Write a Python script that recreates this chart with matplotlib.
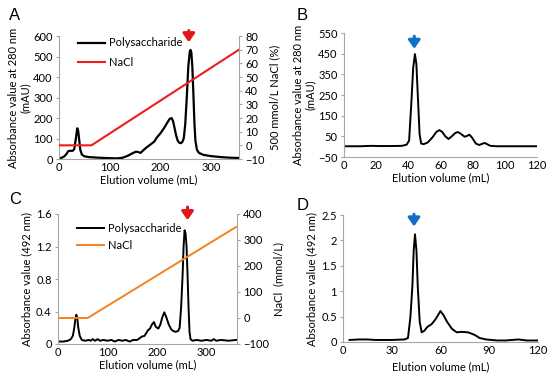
import matplotlib
matplotlib.use("Agg")
import matplotlib.pyplot as plt

plt.rcParams['font.family'] = ['Lato', 'DejaVu Sans']
FS = 8

# ---------------- Data ----------------
# Panel A: DEAE elution (absorbance 280 nm, mAU)
a_x = [0, 5, 10, 15, 18, 22, 27, 30, 33, 36, 38, 40, 42, 45, 50, 60, 80, 100, 115, 125, 135,
       145, 152, 157, 161, 166, 172, 180, 188, 193, 200, 207, 213, 218, 222, 225, 228, 231,
       234, 237, 240, 243, 246, 249, 252, 255, 258, 259.5, 261, 263, 265, 267, 269, 272, 276,
       285, 300, 320, 340, 355]
a_y = [3, 6, 12, 25, 38, 40, 40, 48, 95, 150, 135, 90, 45, 22, 13, 9, 6, 4, 3, 6, 15,
       28, 36, 33, 30, 42, 55, 70, 85, 105, 125, 150, 175, 195, 200, 185, 150, 115,
       90, 80, 77, 82, 100, 170, 300, 450, 525, 532, 520, 450, 320, 180, 90, 45, 30,
       20, 14, 9, 6, 5]
a_nacl_x = [0, 64, 355]
a_nacl_y = [0, 0, 70]

# Panel B: gel filtration (absorbance 280 nm, mAU)
b_x = [0, 10, 17, 22, 30, 36, 39, 40.5, 42, 43, 44.1, 45, 46, 47, 48, 49.5, 52, 55, 57.5,
       59.3, 61, 63, 65, 67, 69, 70.7, 72.5, 75, 76.5, 78, 79.5, 82, 84, 86, 87.5, 89, 91,
       95, 120]
b_y = [2, 2, 4, 3, 3, 4, 10, 30, 230, 380, 448, 400, 230, 60, 15, 12, 20, 45, 72,
       80, 72, 50, 37, 50, 65, 71, 63, 48, 52, 58, 45, 15, 8, 14, 18, 12, 4,
       2, 2]

# Panel C: DEAE elution (absorbance 492 nm)
c_x = [3, 10, 20, 26, 30, 33, 35, 37, 39, 41, 44, 48, 55, 62, 66, 70, 75, 80, 85, 92, 100,
       108, 115, 122, 130, 137, 145, 152, 160, 165, 169, 175, 182, 186, 190, 194, 198, 203,
       207, 211, 215, 219, 224, 229, 233, 238, 243, 246, 249, 252, 254, 256, 258, 260, 262,
       264, 266, 268, 272, 280, 290, 300, 310, 315, 320, 330, 345, 360]
c_y = [0.03, 0.03, 0.04, 0.06, 0.1, 0.2, 0.3, 0.36, 0.32, 0.2, 0.1, 0.05, 0.04, 0.05, 0.04,
       0.06, 0.04, 0.06, 0.04, 0.05, 0.04, 0.05, 0.03, 0.05, 0.04, 0.05, 0.03, 0.05, 0.05,
       0.07, 0.09, 0.1, 0.17, 0.19, 0.24, 0.27, 0.21, 0.19, 0.24, 0.33, 0.39, 0.33, 0.24,
       0.18, 0.16, 0.15, 0.16, 0.2, 0.45, 0.85, 1.2, 1.4, 1.36, 1.2, 0.85, 0.45, 0.15, 0.06,
       0.04, 0.05, 0.04, 0.05, 0.04, 0.06, 0.04, 0.05, 0.04, 0.05]
c_nacl_x = [0, 60, 360]
c_nacl_y = [0, 0, 350]

# Panel D: gel filtration (absorbance 492 nm)
d_x = [4, 10, 15, 20, 30, 38, 40, 41.5, 42.7, 43.5, 44.3, 45.2, 46, 47.2, 48.4, 50, 52, 54.5,
       57, 60, 62, 64, 67, 70, 73, 77, 81, 84, 88, 95, 100, 108, 113, 120]
d_y = [0.04, 0.05, 0.05, 0.04, 0.04, 0.05, 0.08, 0.5, 1.1, 1.8, 2.12, 1.8, 1.1, 0.4, 0.19,
       0.22, 0.3, 0.35, 0.45, 0.61, 0.52, 0.4, 0.26, 0.19, 0.2, 0.19, 0.14, 0.08, 0.05, 0.03,
       0.03, 0.05, 0.03, 0.03]

W, H = 550, 378
fig = plt.figure(figsize=(W / 100, H / 100), dpi=100)
gray = '#a6a6a6'


def add_ax(left, right, top, bottom):
    return fig.add_axes([left / W, 1 - bottom / H, (right - left) / W, (bottom - top) / H])


def style(ax):
    for s in ['top', 'right']:
        ax.spines[s].set_visible(False)
    for s in ['left', 'bottom']:
        ax.spines[s].set_color(gray)
        ax.spines[s].set_linewidth(0.8)
    ax.tick_params(axis='both', labelsize=FS, length=0, pad=2, colors='black')
    ax.tick_params(axis='y', length=2.5, direction='out', color=gray, pad=2)


def style_right(ax2):
    for s in ['top', 'left', 'bottom']:
        ax2.spines[s].set_visible(False)
    ax2.spines['right'].set_color(gray)
    ax2.spines['right'].set_linewidth(0.8)
    ax2.tick_params(axis='y', labelsize=FS, length=2.5, color=gray, pad=2)


ARW = dict(arrowstyle='-|>,head_width=0.35,head_length=0.5', lw=2.2)

# ---------- Panel A ----------
axA = add_ax(59, 239, 36, 159)
style(axA)
axA.plot(a_x, a_y, color='black', lw=1.6, label='Polysaccharide')
axA.set_xlim(0, 355)
axA.set_ylim(0, 600)
axA.set_xticks([0, 100, 200, 300])
axA.set_yticks(range(0, 601, 100))
axA.set_xlabel('Elution volume (mL)', fontsize=FS, labelpad=1)
axA.set_ylabel('Absorbance value at 280 nm\n(mAU)', fontsize=FS, labelpad=2, linespacing=1.05)
axA2 = axA.twinx()
style_right(axA2)
axA2.plot(a_nacl_x, a_nacl_y, color='#ee1c1c', lw=1.5, label='NaCl')
axA2.set_ylim(-10, 80)
axA2.set_yticks(range(-10, 81, 10))
axA2.set_ylabel('500 mmol/L NaCl (%)', fontsize=FS, labelpad=3)
h1, l1 = axA.get_legend_handles_labels()
h2, l2 = axA2.get_legend_handles_labels()
axA.legend(h1 + h2, l1 + l2, loc='upper left', bbox_to_anchor=(0.05, 1.07), frameon=False,
           fontsize=FS, handlelength=2.4, handletextpad=0.4, labelspacing=0.75)
axA.annotate('', xy=(256, 556), xytext=(256, 640), annotation_clip=False,
             arrowprops=dict(color='#e3161b', **ARW))

# ---------- Panel B ----------
axB = add_ax(344, 537, 33, 157)
style(axB)
axB.plot(b_x, b_y, color='black', lw=1.4)
axB.set_xlim(0, 120)
axB.set_ylim(-50, 550)
axB.set_xticks(range(0, 121, 20))
axB.set_yticks(range(-50, 551, 100))
axB.set_xlabel('Elution volume (mL)', fontsize=FS, labelpad=1)
axB.set_ylabel('Absorbance value at 280 nm\n(mAU)', fontsize=FS, labelpad=2, linespacing=1.05)
axB.annotate('', xy=(43.7, 460), xytext=(43.7, 548), annotation_clip=False,
             arrowprops=dict(color='#1170c6', **ARW))

# ---------- Panel C ----------
axC = add_ax(58, 237, 214, 344)
style(axC)
axC.plot(c_x, c_y, color='black', lw=1.4, label='Polysaccharide')
axC.set_xlim(0, 362)
axC.set_ylim(0, 1.6)
axC.set_xticks([0, 100, 200, 300])
axC.set_yticks([0, 0.4, 0.8, 1.2, 1.6])
axC.set_yticklabels(['0', '0.4', '0.8', '1.2', '1.6'])
axC.set_xlabel('Elution volume (mL)', fontsize=FS, labelpad=1)
axC.set_ylabel('Absorbance value (492 nm)', fontsize=FS, labelpad=3)
axC2 = axC.twinx()
style_right(axC2)
axC2.plot(c_nacl_x, c_nacl_y, color='#f58220', lw=1.4, label='NaCl')
axC2.set_ylim(-100, 400)
axC2.set_yticks(range(-100, 401, 100))
axC2.set_ylabel('NaCl  (mmol/L)', fontsize=FS, labelpad=3)
h1, l1 = axC.get_legend_handles_labels()
h2, l2 = axC2.get_legend_handles_labels()
axC.legend(h1 + h2, l1 + l2, loc='upper left', bbox_to_anchor=(0.05, 1.01), frameon=False,
           fontsize=FS, handlelength=2.4, handletextpad=0.4, labelspacing=0.6)
axC.annotate('', xy=(262, 1.49), xytext=(262, 1.72), annotation_clip=False,
             arrowprops=dict(color='#e3161b', **ARW))

# ---------- Panel D ----------
axD = add_ax(343, 538, 215, 342)
style(axD)
axD.plot(d_x, d_y, color='black', lw=1.4)
axD.set_xlim(0, 120)
axD.set_ylim(0, 2.5)
axD.set_xticks(range(0, 121, 30))
axD.set_yticks([0, 0.5, 1, 1.5, 2, 2.5])
axD.set_yticklabels(['0', '0.5', '1', '1.5', '2', '2.5'])
axD.set_xlabel('Elution volume (mL)', fontsize=FS, labelpad=4)
axD.set_ylabel('Absorbance value (492 nm)', fontsize=FS, labelpad=3)
axD.annotate('', xy=(43.7, 2.22), xytext=(43.7, 2.57), annotation_clip=False,
             arrowprops=dict(color='#1170c6', **ARW))

# Panel letters
for lab, (px, py) in {'A': (15, 15), 'B': (302, 16), 'C': (15, 200), 'D': (303, 206)}.items():
    fig.text(px / W, 1 - py / H, lab, fontsize=12, ha='center', va='center',
             family=['Liberation Sans', 'DejaVu Sans'])

fig.savefig('out.png', dpi=100)
